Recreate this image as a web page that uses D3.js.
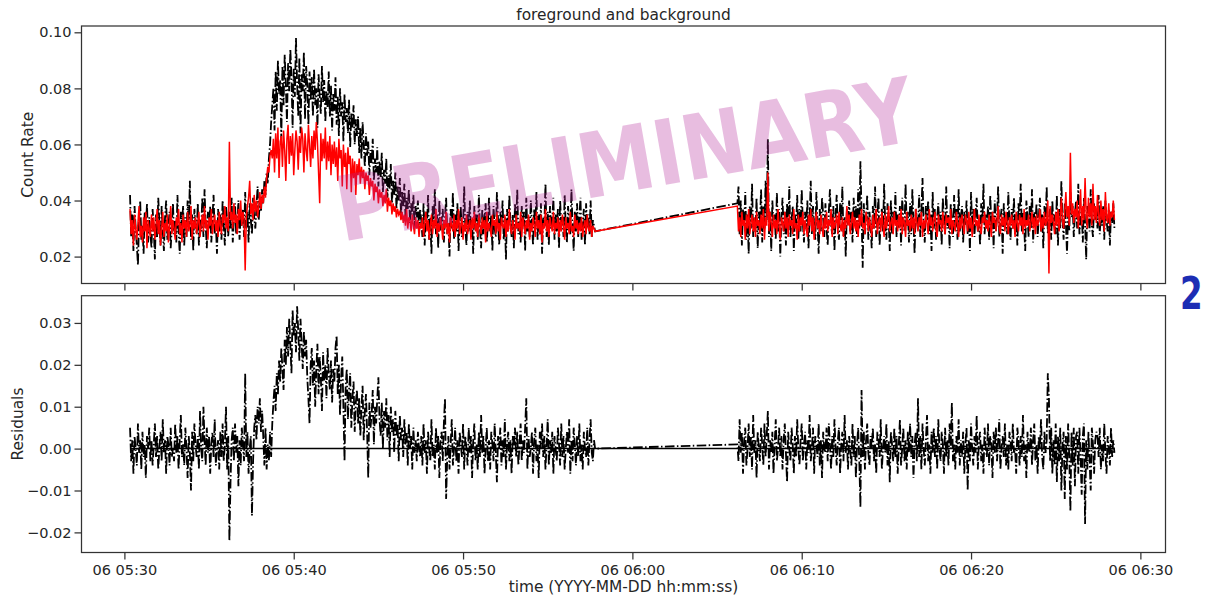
<!DOCTYPE html>
<html>
<head>
<meta charset="utf-8">
<script src="https://cdn.jsdelivr.net/npm/d3@7"></script>
<style>
  body { margin: 0; background: #fff; }
  text { font-family: "DejaVu Sans", sans-serif; }
</style>
</head>
<body>
<div id="chart"></div>
<script>
// light curve, 4 s bins, values in units of 1e-3 counts/s
const binSeconds = 4
const seg1Start = '2022-09-06T05:30:20Z'
const seg2Start = '2022-09-06T06:06:12Z'

// foreground (black)
const fgSeg1 = [
  42,27,35,22,38,30,24,17,33,40,26,31,21,36,29,39,25,34,28,23,
  37,30,19,35,27,41,32,24,38,29,22,34,40,26,31,36,23,30,39,28,
  33,25,42,29,21,36,31,38,24,34,27,40,30,47,26,35,22,37,32,28,
  39,24,33,29,41,27,44,31,23,36,30,38,25,34,42,28,32,21,37,29,
  35,26,40,31,24,38,33,27,36,30,41,25,34,39,28,32,40,26,35,31,
  37,27,43,30,36,25,39,33,28,41,34,30,38,45,33,40,36,
  44,39,47,42,50,46,55,60,68,74,
  80,65,86,72,90,78,83,62,88,74,92,81,68,89,79,94,84,66,87,77,
  98,82,70,91,64,85,79,93,69,88,81,67,86,76,
  84,70,87,74,80,66,85,77,71,88,75,83,68,79,73,86,70,81,65,78,
  72,84,67,77,63,80,70,75,61,78,68,73,64,76,59,71,66,74,60,69,
  63,70,57,66,55,68,60,52,64,56,61,49,58,53,62,47,55,50,59,45,
  54,48,57,43,51,46,55,41,49,44,53,39,47,42,50,37,45,40,48,35,
  43,38,46,34,41,37,44,32,39,35,42,30,38,34,40,29,37,
  33,27,39,24,36,30,42,26,34,21,38,31,44,28,35,23,40,29,33,37,
  25,34,41,28,32,20,37,30,43,26,35,29,39,22,33,38,27,31,45,30,
  24,36,29,40,27,33,21,38,31,35,26,42,30,23,37,28,34,39,25,32,
  41,29,35,22,38,30,27,43,33,24,36,31,40,26,34,19,37,29,42,32,
  27,35,23,39,30,44,28,33,25,38,31,36,22,41,29,34,27,40,32,24,
  37,30,43,26,35,28,39,21,34,31,46,27,36,24,38,30,33,41,26,35,
  29,37,23,40,31,34,27,42,30,25,38,33,28,44,31,22,36,29,39,27,
  34,41,26,32,37,24,39,30,35,28,40,27,33,31,29
]
const fgSeg2 = [
  39,45,28,40,24,37,31,43,26,35,21,38,30,46,27,34,29,41,23,36,
  32,44,25,38,30,47,33,62,27,36,22,40,31,35,26,43,29,37,20,34,
  41,28,36,24,39,31,45,27,33,38,22,35,30,42,26,37,29,44,32,25,
  36,30,40,23,34,47,28,38,31,26,43,33,21,37,29,41,35,27,39,30,
  24,36,44,31,28,38,22,35,42,30,26,39,33,45,27,34,20,37,31,40,
  29,36,25,41,32,38,27,44,30,54,35,16,39,28,33,42,26,36,31,23,
  38,30,45,27,35,41,24,33,37,29,46,31,26,39,34,22,40,28,36,32,
  43,27,35,30,38,24,41,33,29,46,31,36,25,39,28,44,32,21,37,34,
  30,42,27,36,48,31,25,38,33,40,28,35,22,43,30,37,26,34,39,29,
  36,24,41,32,28,45,30,35,23,39,33,27,42,31,37,26,44,29,34,38,
  25,36,31,40,28,34,22,43,30,37,27,35,41,29,33,24,39,32,46,28,
  35,30,38,26,42,31,36,23,40,29,34,45,27,33,37,21,39,30,35,28,
  43,32,26,37,30,41,28,35,24,39,33,46,29,36,31,22,40,34,27,38,
  30,44,25,36,32,39,27,34,41,29,35,23,38,31,45,28,33,37,26,40,
  31,35,28,42,24,37,30,47,33,26,39,32,21,36,29,43,34,38,27,35,
  40,30,46,28,34,37,25,41,32,19,38,35,29,44,31,27,39,33,36,30,
  42,28,35,31,38,26,40,33,29,37,24,36,32,39,30
]

// background (red)
const bgSeg1 = [
  37,28,33,24,35,30,26,32,38,27,31,25,34,29,36,23,33,30,27,35,
  29,34,26,31,37,28,33,24,30,36,27,32,29,35,25,31,38,28,33,30,
  26,34,31,37,28,32,25,35,30,33,27,36,29,31,38,26,33,30,34,28,
  32,36,27,31,35,29,38,30,33,26,34,31,37,28,32,35,29,33,27,36,
  31,28,35,32,38,30,34,29,61,33,36,30,39,32,35,28,37,33,40,31,
  36,33,15,34,38,41,47,35,39,33,42,36,40,34,38,43,37,
  42,39,45,41,48,52,50,56,58,55,
  62,50,64,55,66,48,61,63,52,65,58,47,62,67,53,63,56,64,49,58,
  65,61,51,63,57,66,62,50,64,58,54,67,60,52,
  63,55,65,58,68,61,50,39,64,54,62,55,66,51,61,54,63,49,60,53,
  61,52,59,47,62,55,58,45,60,52,57,44,59,53,56,43,55,48,54,42,
  53,49,55,46,52,48,51,44,50,47,49,42,48,45,47,40,46,43,45,39,
  44,41,43,38,42,39,44,36,41,38,40,35,39,36,38,34,37,35,36,33,
  36,32,35,31,37,30,34,33,29,35,31,28,34,30,33,27,32,
  30,34,27,32,36,29,33,26,31,35,28,33,30,37,27,32,29,34,31,26,
  33,30,36,28,32,25,34,31,29,35,27,33,30,37,28,31,34,26,32,29,
  35,28,31,33,26,34,30,36,29,32,27,35,31,28,34,30,33,25,36,29,
  32,30,27,35,31,33,28,36,29,32,26,34,31,30,35,27,33,29,37,30,
  28,33,31,26,35,30,32,29,36,27,34,31,28,33,30,35,26,32,29,34,
  31,27,36,30,33,28,35,25,32,30,37,29,33,27,34,31,29,36,28,32,
  30,34,27,33,29,35,31,26,34,30,32,28,36,29,31,27,35,30,33,28,
  32,29,34,27,31,33,28,35,30,29,33,27,31,30,29
]
const bgSeg2 = [
  38,29,34,27,36,31,33,26,35,30,37,28,32,35,29,34,27,36,31,33,
  28,35,30,37,26,34,31,50,29,36,32,27,35,30,33,28,37,31,26,34,
  32,29,36,30,34,27,35,31,33,28,37,30,32,26,35,29,34,31,36,28,
  33,30,27,35,31,37,29,34,26,32,36,30,33,28,35,31,27,34,30,36,
  29,33,31,37,27,34,30,32,35,28,36,31,29,34,27,33,30,38,31,35,
  28,32,36,30,34,29,33,27,35,31,37,30,32,28,36,33,29,34,31,27,
  35,30,33,37,28,32,34,29,36,31,27,35,30,33,38,29,32,34,28,36,
  31,33,29,35,30,37,28,34,32,27,36,31,33,29,35,30,34,28,37,32,
  29,34,31,36,27,33,30,35,32,28,37,31,34,29,33,36,30,27,35,32,
  33,29,36,31,28,35,32,34,30,37,28,33,31,29,36,32,27,34,30,35,
  31,28,35,33,29,36,30,34,27,32,37,31,33,29,35,30,28,34,32,36,
  30,33,29,35,31,27,36,32,34,29,33,38,30,28,35,31,34,29,36,32,
  28,34,31,35,30,33,27,36,32,29,35,31,34,28,37,30,33,31,35,29,
  32,36,30,34,28,35,31,33,37,29,34,30,36,31,33,40,14,38,32,35,
  32,28,36,31,37,29,34,41,33,30,36,43,34,38,31,57,35,39,32,37,
  34,40,30,36,44,31,38,33,48,35,30,41,34,39,31,46,33,38,32,42,
  35,31,40,33,37,29,43,34,32,39,31,36,34,40,33
]

// residuals (black, lower panel)
const resSeg1 = [
  5,-3,2,-6,3,0,-4,6,-1,2,-5,4,-2,1,-7,3,0,5,-3,2,
  -4,1,6,-2,3,-5,0,4,-3,7,-1,2,-6,3,1,-4,5,-2,0,-3,
  6,-1,3,-5,2,8,-2,1,-4,5,0,-7,3,-1,-10,4,-3,6,1,-2,
  3,-5,9,0,-3,10,2,-4,5,-1,3,-6,1,4,-2,7,-4,0,2,-5,
  4,-2,6,-3,1,10,-5,3,-22,-8,2,5,-3,6,-1,3,-9,2,-4,5,
  1,-3,18,-2,4,-6,0,3,-16,-3,5,8,2,10,6,12,4,
  9,3,-4,5,-5,1,-3,4,-2,6,
  11,15,9,18,13,21,16,24,19,14,26,20,29,22,31,25,18,33,27,30,
  23,34,28,21,31,25,19,28,22,26,17,12,6,20,
  24,15,21,10,19,25,13,22,17,9,23,16,20,12,24,18,14,21,11,19,
  16,24,27,13,20,8,17,22,10,-3,15,19,7,14,18,5,12,16,4,11,
  14,6,12,3,10,15,2,9,13,4,-7,11,5,8,14,1,10,6,12,17,
  7,3,11,0,9,5,12,2,8,-2,10,4,7,-1,9,3,6,-3,8,2,
  5,-2,7,1,4,-4,6,0,3,-5,5,-1,2,-3,4,0,-2,
  3,-4,6,-1,2,-6,4,0,-3,7,-2,1,-5,5,-1,3,-7,2,4,-3,
  6,12,-12,-2,3,-5,1,7,-4,0,5,-3,2,-6,4,1,-2,6,-5,3,
  0,-4,5,-1,3,-7,2,6,-3,1,-5,4,-2,8,-1,3,-6,0,5,-3,
  2,-5,4,1,-3,6,-1,-8,3,0,5,-4,2,-2,7,-5,1,4,-3,2,
  -6,3,0,5,-2,4,-4,1,6,-3,2,-1,5,12,-5,3,-2,0,4,-6,
  2,5,-3,1,-7,4,0,6,-2,3,-5,1,7,-4,2,-1,4,-6,3,0,
  -3,5,1,-4,6,-2,3,-5,0,4,-1,7,-6,2,-3,5,1,-4,3,-2,
  6,-3,1,-5,4,0,-2,5,-4,2,7,-1,-3,2,0
]
const resSeg2 = [
  1,-3,7,-1,4,-6,2,5,-4,0,6,-2,3,-5,8,-1,2,-7,4,0,
  -3,5,1,-4,6,-2,3,9,-5,2,-1,4,-6,1,7,-3,0,5,-2,3,
  -5,2,6,-1,-8,4,0,-3,5,1,-6,3,-2,7,0,-4,2,6,-3,1,
  4,-5,2,-1,8,-3,0,5,-6,3,1,-2,6,-4,2,-7,4,0,-1,5,
  -3,6,1,-5,3,-2,7,0,-4,2,5,-6,1,4,-3,8,-1,2,-5,3,
  0,-4,6,-2,3,-7,1,5,-3,-14,14,-2,4,-5,2,6,-1,-4,3,0,
  5,-3,1,-6,4,2,-2,7,-5,0,3,-1,6,-4,2,-8,4,1,-3,5,
  -2,3,-6,1,7,-4,0,5,-3,2,-5,4,-1,6,-2,3,-7,1,4,-3,
  12,-2,3,-5,6,0,-4,2,8,-3,1,-6,4,-1,5,-2,3,-5,7,0,
  -3,4,1,-6,5,-2,2,-4,6,0,11,-3,1,-5,3,-1,7,-4,2,-2,
  4,-6,1,5,-10,2,-3,6,0,-4,3,-1,8,-5,2,4,-3,1,-6,5,
  0,-2,6,-4,3,1,-7,4,-1,5,-3,2,7,-5,0,3,-2,6,-4,1,
  -5,4,2,-3,6,-1,0,-6,5,2,-4,3,-2,8,-3,1,-7,4,0,-1,
  5,-4,2,6,-3,1,-6,3,0,7,-2,-5,4,-1,2,18,12,-3,5,-6,
  2,-4,6,-8,3,-3,5,-10,1,4,-12,3,-5,6,-2,-15,4,-4,5,-9,
  3,4,-6,5,-2,-11,3,6,-18,2,-5,4,-3,-10,5,1,-6,2,4,3,
  -2,5,-5,1,-3,6,-1,-6,3,0,-4,5,-2,2,-1
]

const xTickLabelFmt = d3.utcFormat('%d %H:%M')
const countTicks = [0.02, 0.04, 0.06, 0.08, 0.10]
const residTicks = [-0.02, -0.01, 0.00, 0.01, 0.02, 0.03]

// turn a segment of binned values into {t, v} points
const toPoints = (start, vals) => {
  const t0 = new Date(start).getTime()
  return vals.map((v, i) => ({t: new Date(t0 + i * binSeconds * 1000), v: v / 1000}))
}
const fg = toPoints(seg1Start, fgSeg1).concat(toPoints(seg2Start, fgSeg2))
const bg = toPoints(seg1Start, bgSeg1).concat(toPoints(seg2Start, bgSeg2))
const res = toPoints(seg1Start, resSeg1).concat(toPoints(seg2Start, resSeg2))

const W = 1206, H = 597
const left = 81.5, right = 1165.5
const top1 = 26, bot1 = 283.5
const top2 = 295.7, bot2 = 552.5
const axisColor = '#333'
const textColor = '#262626'
const tickFont = 14.5
const labelFont = 15.4

const svg = d3.select('#chart').append('svg')
  .attr('width', W)
  .attr('height', H)

const x = d3.scaleUtc()
  .domain([new Date('2022-09-06T05:27:28Z'), new Date('2022-09-06T06:31:29Z')])
  .range([left, right])

const y1 = d3.scaleLinear().domain([0.0104, 0.10225]).range([bot1, top1])
const y2 = d3.scaleLinear().domain([-0.0248, 0.0365]).range([bot2, top2])

const xTicks = d3.utcMinute.every(10).range(x.domain()[0], x.domain()[1])

const defs = svg.append('defs')
defs.append('clipPath').attr('id', 'clip1').append('rect')
  .attr('x', left).attr('y', top1).attr('width', right - left).attr('height', bot1 - top1)
defs.append('clipPath').attr('id', 'clip2').append('rect')
  .attr('x', left).attr('y', top2).attr('width', right - left).attr('height', bot2 - top2)

const dashDot = '9.6,2.4,1.5,2.4'

// ---- top panel: foreground (black) and background (red)
const line1 = d3.line().x(d => x(d.t)).y(d => y1(d.v))
const p1 = svg.append('g').attr('clip-path', 'url(#clip1)')
p1.append('path').datum(fg)
  .attr('d', line1)
  .attr('fill', 'none')
  .attr('stroke', '#000')
  .attr('stroke-width', 1.8)
  .attr('stroke-dasharray', dashDot)
p1.append('path').datum(bg)
  .attr('d', line1)
  .attr('fill', 'none')
  .attr('stroke', '#ff0000')
  .attr('stroke-width', 1.5)

// ---- bottom panel: residuals and zero line
const line2 = d3.line().x(d => x(d.t)).y(d => y2(d.v))
const p2 = svg.append('g').attr('clip-path', 'url(#clip2)')
p2.append('path').datum(res)
  .attr('d', line2)
  .attr('fill', 'none')
  .attr('stroke', '#000')
  .attr('stroke-width', 1.8)
  .attr('stroke-dasharray', dashDot)
const tExtent = d3.extent(res, d => d.t)
p2.append('path').datum(tExtent.map(t => ({t: t, v: 0})))
  .attr('d', line2)
  .attr('fill', 'none')
  .attr('stroke', '#000')
  .attr('stroke-width', 1.5)

// ---- axes
function styleAxis(g) {
  g.select('.domain').remove()
  g.selectAll('.tick line').attr('stroke', axisColor).attr('stroke-width', 1.25)
  g.selectAll('.tick text').attr('fill', textColor).style('font-size', tickFont + 'px')
}

svg.append('g')
  .attr('transform', `translate(0,${bot1})`)
  .call(d3.axisBottom(x).tickValues(xTicks).tickSize(7).tickFormat(''))
  .call(styleAxis)

svg.append('g')
  .attr('transform', `translate(0,${bot2})`)
  .call(d3.axisBottom(x).tickValues(xTicks).tickSize(7).tickPadding(5).tickFormat(xTickLabelFmt))
  .call(styleAxis)

svg.append('g')
  .attr('transform', `translate(${left},0)`)
  .call(d3.axisLeft(y1).tickValues(countTicks).tickSize(7).tickPadding(3).tickFormat(d3.format('.2f')))
  .call(styleAxis)

svg.append('g')
  .attr('transform', `translate(${left},0)`)
  .call(d3.axisLeft(y2).tickValues(residTicks).tickSize(7).tickPadding(3)
    .tickFormat(d => d3.format('.2f')(d).replace('-', '\u2212')))
  .call(styleAxis)

// frames
;[[top1, bot1], [top2, bot2]].forEach(([t, b]) => {
  svg.append('rect')
    .attr('x', left).attr('y', t)
    .attr('width', right - left).attr('height', b - t)
    .attr('fill', 'none')
    .attr('stroke', axisColor)
    .attr('stroke-width', 1.25)
})

// ---- labels
svg.append('text')
  .attr('x', (left + right) / 2).attr('y', 20)
  .attr('text-anchor', 'middle')
  .attr('fill', textColor)
  .style('font-size', labelFont + 'px')
  .text('foreground and background')

svg.append('text')
  .attr('x', (left + right) / 2).attr('y', 592)
  .attr('text-anchor', 'middle')
  .attr('fill', textColor)
  .style('font-size', labelFont + 'px')
  .text('time (YYYY-MM-DD hh:mm:ss)')

svg.append('text')
  .attr('transform', `translate(33,${(top1 + bot1) / 2}) rotate(-90)`)
  .attr('text-anchor', 'middle')
  .attr('fill', textColor)
  .style('font-size', labelFont + 'px')
  .text('Count Rate')

svg.append('text')
  .attr('transform', `translate(23,${(top2 + bot2) / 2}) rotate(-90)`)
  .attr('text-anchor', 'middle')
  .attr('fill', textColor)
  .style('font-size', labelFont + 'px')
  .text('Residuals')

// panel number
svg.append('text')
  .attr('transform', 'translate(1180,309) scale(0.74,1)')
  .attr('fill', '#1c2db4')
  .style('font-size', '44px')
  .style('font-weight', 'bold')
  .text('2')

// watermark
svg.append('text')
  .attr('transform', 'translate(630,191) rotate(-10)')
  .attr('text-anchor', 'middle')
  .attr('fill', '#b22398')
  .attr('fill-opacity', 0.3)
  .attr('textLength', 585)
  .attr('lengthAdjust', 'spacingAndGlyphs')
  .style('font-size', '90px')
  .style('font-weight', 'bold')
  .text('PRELIMINARY')
</script>
</body>
</html>
